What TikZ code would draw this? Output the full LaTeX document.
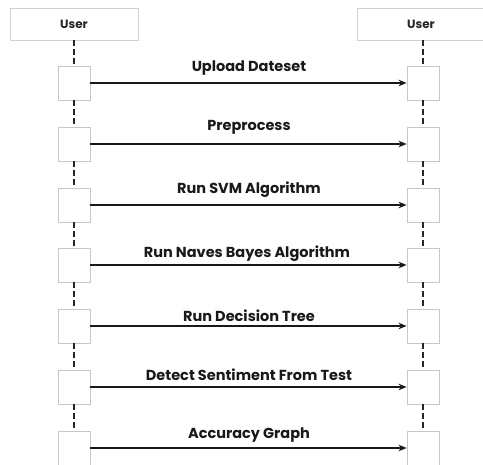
\documentclass[tikz,border=0pt]{standalone}
\usepackage{fontspec}
\setmainfont{Poppins}
\usetikzlibrary{arrows.meta}
\tikzset{
  actor/.style={draw=black!18, line width=0.8pt, fill=white, minimum width=128pt, minimum height=32pt, inner sep=0pt, font=\bfseries\fontsize{12}{13}\selectfont, text=black!85},
  actbox/.style={draw=black!22, line width=0.9pt, fill=white, minimum width=32pt, minimum height=34pt, inner sep=0pt},
  lifeline/.style={draw=black!85, line width=1.8pt, dash pattern=on 6pt off 3pt},
  msg/.style={draw=black!90, line width=1.8pt, -{Stealth[length=8pt,width=6.5pt]}},
  msglabel/.style={font=\bfseries\fontsize{14.5}{16}\selectfont, text=black!90, inner sep=0pt}
}
\begin{document}
\begin{tikzpicture}[x=1pt,y=-1pt]
\useasboundingbox[fill=white] (0,0) rectangle (483,465);
% actors
\node[actor] (ua) at (74,24) {User};
\node[actor] (ub) at (421,24) {User};
% activation boxes on both lifelines
\foreach \i/\y in {1/83,2/144,3/205,4/265,5/326,6/387,7/448}{
  \node[actbox] (a\i) at (74,\y) {};
  \node[actbox] (b\i) at (423,\y) {};
}
% lifelines between boxes
\draw[lifeline] (a1.north |- ua.south) -- (a1.north);
\draw[lifeline] (b1.north |- ub.south) -- (b1.north);
\foreach \i/\j in {1/2,2/3,3/4,4/5,5/6,6/7}{
  \draw[lifeline] (a\i.south) -- (a\j.north);
  \draw[lifeline] (b\i.south) -- (b\j.north);
}
% messages
\draw[msg] (a1.east) -- (b1.west);
\draw[msg] (a2.east) -- (b2.west);
\draw[msg] (a3.east) -- (b3.west);
\draw[msg] (a4.east) -- (b4.west);
\draw[msg] (a5.east) -- (b5.west);
\draw[msg] (a6.east) -- (b6.west);
\draw[msg] (a7.east) -- (b7.west);
% message labels
\node[msglabel] (l1) at (249,68) {Upload Dateset};
\node[msglabel] (l2) at (249,127) {Preprocess};
\node[msglabel] (l3) at (249,190) {Run SVM Algorithm};
\node[msglabel] (l4) at (247,254) {Run Naves Bayes Algorithm};
\node[msglabel] (l5) at (249,316) {Run Decision Tree};
\node[msglabel] (l6) at (249,375) {Detect Sentiment From Test};
\node[msglabel] (l7) at (249,435) {Accuracy Graph};
\end{tikzpicture}
\end{document}
